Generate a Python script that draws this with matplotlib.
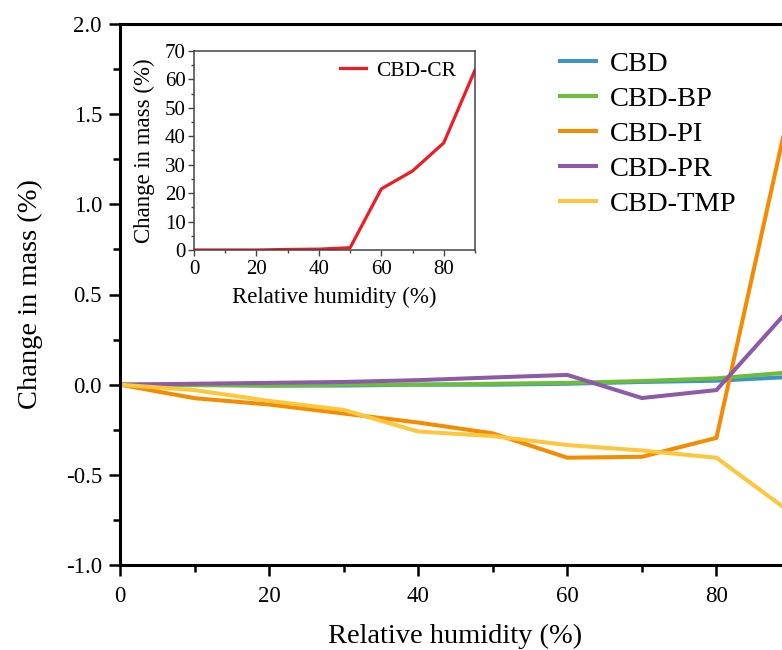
import numpy as np
import matplotlib
matplotlib.use("Agg")
import matplotlib.pyplot as plt
from matplotlib.ticker import MultipleLocator, FormatStrFormatter

plt.rcParams['font.family'] = ['Liberation Serif', 'DejaVu Serif']

rh = [0, 10, 20, 30, 40, 50, 60, 70, 80, 90]

cbd = [0, 0.0, -0.005, -0.005, 0.0, 0.0, 0.005, 0.015, 0.022, 0.043]
cbd_bp = [0, -0.003, -0.005, 0.0, 0.0, 0.005, 0.01, 0.02, 0.035, 0.069]
cbd_pi = [0, -0.075, -0.11, -0.16, -0.21, -0.27, -0.405, -0.40, -0.295, 1.57]
cbd_pr = [0, 0.005, 0.01, 0.015, 0.025, 0.04, 0.054, -0.074, -0.03, 0.43]
cbd_tmp = [0, -0.03, -0.09, -0.14, -0.26, -0.285, -0.335, -0.365, -0.405, -0.71]

cbd_cr = [0, 0, 0, 0.2, 0.3, 0.8, 21.5, 27.8, 37.7, 63.3]

series = [
    ("CBD", cbd, "#3f93c6"),
    ("CBD-BP", cbd_bp, "#6cbd3a"),
    ("CBD-PI", cbd_pi, "#f58b00"),
    ("CBD-PR", cbd_pr, "#8c5aa8"),
    ("CBD-TMP", cbd_tmp, "#fdc63c"),
]

fig = plt.figure(figsize=(7.82, 6.5), dpi=100)
W, H = 782, 650

# main axes (runs past the right edge like the original crop)
ax = fig.add_axes([120 / W, 1 - 565 / H, 671 / W, 541 / H])
for name, vals, col in series:
    ax.plot(rh, vals, color=col, lw=2.9, label=name, solid_joinstyle='miter')

ax.set_xlim(0, 90)
ax.set_ylim(-1.0, 2.0)
ax.xaxis.set_major_locator(MultipleLocator(20))
ax.xaxis.set_minor_locator(MultipleLocator(10))
ax.yaxis.set_major_locator(MultipleLocator(0.5))
ax.yaxis.set_minor_locator(MultipleLocator(0.25))
ax.yaxis.set_major_formatter(FormatStrFormatter('%.1f'))
ax.tick_params(which='major', direction='out', length=8, width=1.8, labelsize=16.5)
ax.tick_params(axis='y', which='major', pad=5)
ax.tick_params(axis='x', which='major', pad=7)
ax.tick_params(which='minor', direction='out', length=5, width=1.8)
for s in ['left', 'bottom', 'top']:
    ax.spines[s].set_linewidth(2.2)
ax.spines['right'].set_visible(False)
ax.set_xlabel("Relative humidity (%)", fontsize=20.5, labelpad=12)
ax.set_ylabel("Change in mass (%)", fontsize=20.5, labelpad=16)

ax.legend(loc='upper left', bbox_to_anchor=(560 / W, 1 - 51 / H),
          bbox_transform=fig.transFigure, frameon=False, fontsize=20.5,
          handlelength=1.25, handletextpad=0.5, labelspacing=0.32,
          borderpad=0, borderaxespad=0)

# inset
ins = fig.add_axes([194 / W, 1 - 250 / H, 281 / W, 199 / H])
ins.plot(rh, cbd_cr, color="#ee1c24", lw=2.3, label="CBD-CR")
ins.set_xlim(0, 90)
ins.set_ylim(0, 70)
ins.xaxis.set_major_locator(MultipleLocator(20))
ins.xaxis.set_minor_locator(MultipleLocator(10))
ins.yaxis.set_major_locator(MultipleLocator(10))
ins.yaxis.set_minor_locator(MultipleLocator(5))
ins.tick_params(which='major', direction='out', length=4, width=1.0,
                labelsize=15, color='#444444')
ins.tick_params(axis='y', which='major', pad=2)
ins.tick_params(axis='x', which='major', pad=3)
ins.tick_params(which='minor', direction='out', length=2.5, width=1.0, color='#444444')
for s in ins.spines.values():
    s.set_linewidth(1.1)
    s.set_color('#444444')
ins.set_xlabel("Relative humidity (%)", fontsize=16.5, labelpad=6)
ins.set_ylabel("Change in mass (%)", fontsize=16.5, labelpad=7)
ins.legend(loc='upper right', bbox_to_anchor=(0.965, 0.995), frameon=False,
           fontsize=15.5, handlelength=1.2, handletextpad=0.5,
           borderaxespad=0.2, borderpad=0.2)

fig.savefig("out.png", dpi=100)
